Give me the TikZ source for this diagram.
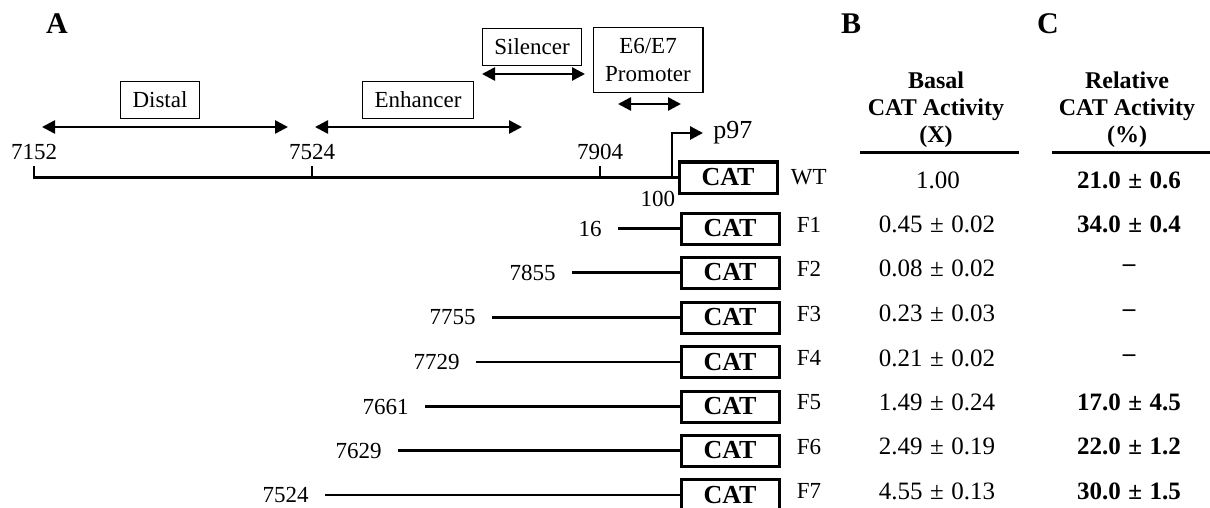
\documentclass[tikz,border=0pt]{standalone}
\usepackage{fontspec}
\setmainfont{Liberation Serif}
\usetikzlibrary{arrows.meta,positioning}
\newcommand{\pmval}[2]{#1\hspace{0.3em}±\hspace{0.3em}#2}

\begin{document}
\begin{tikzpicture}[x=0.5pt,y=-0.5pt,
  font=\fontsize{11.5}{13.5}\selectfont,
  lbl/.style={inner sep=1pt},
  panel/.style={font=\fontsize{15}{17}\selectfont\bfseries},
  region/.style={draw,line width=0.7pt,inner xsep=6pt,minimum height=18.5pt},
  catbox/.style={draw,line width=1.5pt,minimum width=49pt,minimum height=15.5pt,inner sep=0pt,
    font=\fontsize{13}{15}\selectfont\bfseries},
  dna/.style={line width=1.4pt},
  segarrow/.style={line width=1.3pt,arrows={Triangle[length=6.5pt,width=6.5pt]-Triangle[length=6.5pt,width=6.5pt]}},
  head/.style={align=center,font=\fontsize{12}{13.5}\selectfont\bfseries},
  val/.style={font=\fontsize{12.5}{14}\selectfont},
  rule/.style={line width=1.5pt}]
\useasboundingbox (0,0) rectangle (1210,508);

% panel letters
\node[panel] (pA) at (57,24) {A};
\node[panel] (pB) at (851,24) {B};
\node[panel] (pC) at (1048,24) {C};

% regulatory regions
\node[region] (distal) at (160,100) {Distal};
\coordinate (distL) at (42,127);
\coordinate (distR) at (288,127);
\draw[segarrow] (distL) -- (distR);
\node[region] (enh) at (418,100) {Enhancer};
\coordinate (enhL) at (315,127);
\coordinate (enhR) at (522,127);
\draw[segarrow] (enhL) -- (enhR);
\node[region] (sil) at (532,47) {Silencer};
\coordinate (silL) at (482,74);
\coordinate (silR) at (585,74);
\draw[segarrow] (silL) -- (silR);
\node[region,align=center,minimum height=32.5pt] (prom) at (648,60) {E6/E7\\Promoter};
\coordinate (promL) at (618,104);
\coordinate (promR) at (681,104);
\draw[segarrow] (promL) -- (promR);

% wild type construct
\node[catbox] (catWT) at (728,177.5) {CAT};
\node[lbl,right=5pt of catWT] (lWT) {WT};
\coordinate (tk1) at (34,166);
\coordinate (tk2) at (312,166);
\coordinate (tk3) at (600,166);
\draw[dna] (tk1) |- (catWT.west);
\draw[dna] (tk2) -- (tk2 |- catWT.west);
\draw[dna] (tk3) -- (tk3 |- catWT.west);
\node[lbl,above=2pt of tk1] (n7152) {7152};
\node[lbl,above=2pt of tk2] (n7524) {7524};
\node[lbl,above=2pt of tk3] (n7904) {7904};
\node[lbl,anchor=east] (n100) at ([yshift=-2pt]catWT.south west) {100};
\coordinate (tss) at (672,177.5);
\coordinate (tip) at (703,133);
\draw[line width=1.4pt,-{Triangle[length=6.5pt,width=6.5pt]}] (tss) |- (tip);
\node[lbl,right=4pt of tip,font=\fontsize{13}{15}\selectfont] (p97) {p97};

% table headers
\node[head] (hdB) at (936,110) {Basal\\CAT Activity\\(X)};
\node[head] (hdC) at (1127,110) {Relative\\CAT Activity\\(\%)};
\draw[rule] (860,153) -- (1019,153);
\draw[rule] (1052,153) -- (1210,153);
\node[val] (bWT) at (938,180) {1.00};
\node[val,font=\fontsize{12.5}{14}\selectfont\bfseries] (cWT) at (1129,180) {\pmval{21.0}{0.6}};

% deletion constructs
\foreach \name/\y/\start/\num/\basal/\rel in {
  F1/228.5/618/16/\pmval{0.45}{0.02}/\pmval{34.0}{0.4},
  F2/272.5/572/7855/\pmval{0.08}{0.02}/–,
  F3/317.5/492/7755/\pmval{0.23}{0.03}/–,
  F4/362/476/7729/\pmval{0.21}{0.02}/–,
  F5/406.5/425/7661/\pmval{1.49}{0.24}/\pmval{17.0}{4.5},
  F6/450.5/398/7629/\pmval{2.49}{0.19}/\pmval{22.0}{1.2},
  F7/495/325/7524/\pmval{4.55}{0.13}/\pmval{30.0}{1.5}} {
  \node[catbox] (cat\name) at (730,\y) {CAT};
  \coordinate (s\name) at (\start,\y);
  \draw[dna] (s\name) -- (cat\name.west);
  \node[lbl,left=7pt of s\name] (n\name) {\num};
  \node[lbl,right=7pt of cat\name,yshift=2pt] (l\name) {\name};
  \node[val] (b\name) at (937,\y-4) {\basal};
  \node[val,font=\fontsize{12.5}{14}\selectfont\bfseries] (c\name) at (1129,\y-4) {\rel};
}
\end{tikzpicture}
\end{document}
